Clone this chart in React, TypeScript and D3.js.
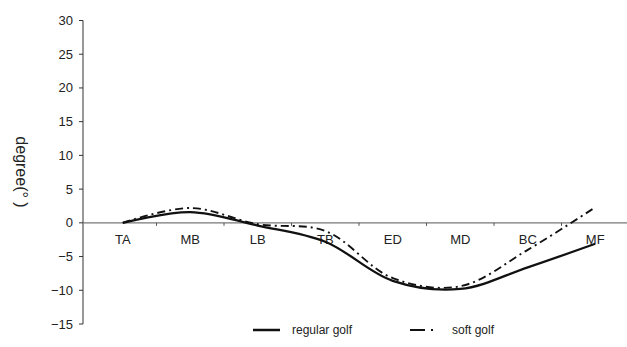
import * as d3 from "d3";

const categories = ["TA", "MB", "LB", "TB", "ED", "MD", "BC", "MF"];
const regularGolf = [0, 1.6, -0.4, -2.8, -8.6, -9.8, -6.6, -3.1];
const softGolf = [0, 2.2, -0.2, -1.2, -8.2, -9.4, -4.0, 2.3];
const yTicks = [30, 25, 20, 15, 10, 5, 0, -5, -10, -15];

const width = 627;
const height = 347;
const axisX = 83;
const font = "'Liberation Sans', Arial, sans-serif";

const App = () => {
  const xScale = d3.scaleBand<string>().domain(categories).range([89, 629]).padding(0);
  const yScale = d3.scaleLinear().domain([-15, 30]).range([324, 20.5]);
  const cx = (c: string) => (xScale(c) as number) + xScale.bandwidth() / 2;

  const line = d3
    .line<number>()
    .x((_, i) => cx(categories[i]))
    .y((d) => yScale(d))
    .curve(d3.curveCatmullRom.alpha(0.5));

  const y0 = yScale(0);

  return (
    <svg
      width={width}
      height={height}
      style={{ position: "absolute", left: 0, top: 0, background: "#fff" }}
      fontFamily={font}
    >
      {/* y axis */}
      <line x1={axisX} x2={axisX} y1={yScale(30)} y2={yScale(-15)} stroke="#333" strokeWidth={1} />
      {yTicks.map((t) => (
        <g key={t} transform={`translate(0,${yScale(t)})`}>
          <line x1={axisX - 4} x2={axisX} stroke="#333" />
          <text x={73} textAnchor="end" dominantBaseline="central" fontSize={13} fill="#222">
            {t < 0 ? `\u2212${Math.abs(t)}` : t}
          </text>
        </g>
      ))}

      {/* zero line */}
      <line x1={axisX} x2={width} y1={y0} y2={y0} stroke="#777" strokeWidth={1.2} />
      {categories.slice(1).map((c) => (
        <line key={c} x1={xScale(c)} x2={xScale(c)} y1={y0} y2={y0 + 3} stroke="#555" />
      ))}
      {categories.map((c) => (
        <text key={c} x={cx(c)} y={y0 + 17} textAnchor="middle" dominantBaseline="central" fontSize={13} fill="#222">
          {c}
        </text>
      ))}

      {/* series */}
      <path d={line(regularGolf) || ""} fill="none" stroke="#111" strokeWidth={2.3} />
      <path
        d={line(softGolf) || ""}
        fill="none"
        stroke="#111"
        strokeWidth={1.9}
        strokeDasharray="8,4,2,4"
      />

      {/* y label */}
      <text
        transform={`translate(16,172) rotate(90)`}
        textAnchor="middle"
        fontSize={16}
        fill="#222"
      >
        {"degree(°  )"}
      </text>

      {/* legend */}
      <line x1={253} x2={280} y1={330} y2={330} stroke="#111" strokeWidth={2.5} />
      <text x={292} y={330} dominantBaseline="central" fontSize={12} fill="#222">
        regular golf
      </text>
      <line x1={410} x2={436} y1={330} y2={330} stroke="#111" strokeWidth={2} strokeDasharray="15,6,2,6" />
      <text x={452} y={330} dominantBaseline="central" fontSize={12} fill="#222">
        soft golf
      </text>
    </svg>
  );
};

export default App;
